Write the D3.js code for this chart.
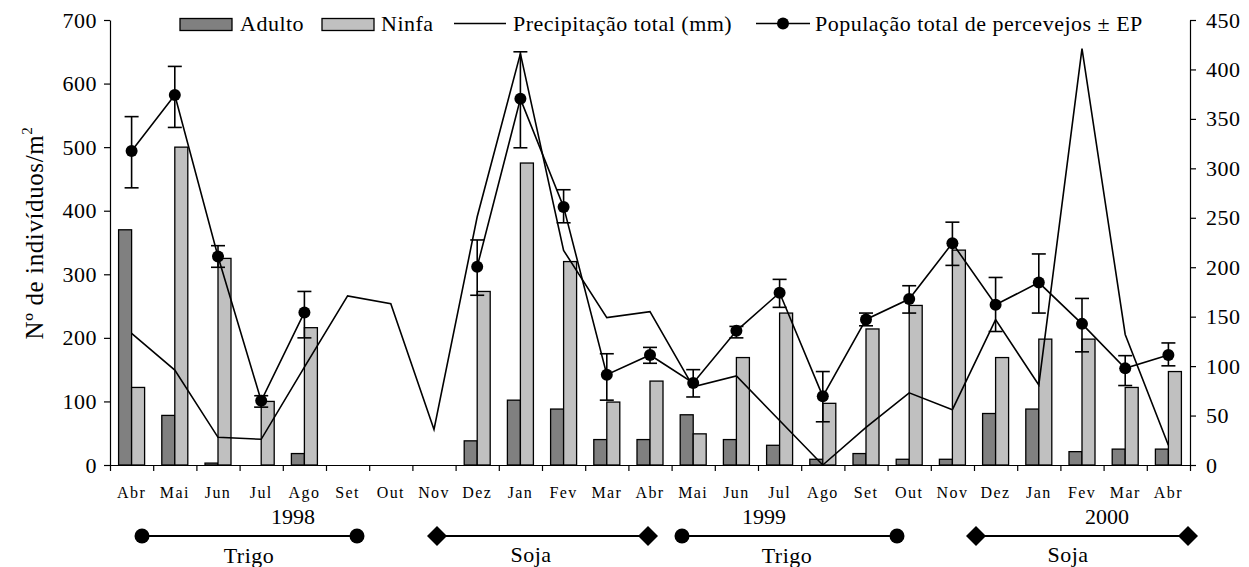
<!DOCTYPE html>
<html>
<head>
<meta charset="utf-8">
<script src="https://cdn.jsdelivr.net/npm/d3@7"></script>
<style>
  body { margin: 0; background: #fff; }
  svg { display: block; font-family: "Liberation Serif", "Times New Roman", serif; }
</style>
</head>
<body>
<svg id="chart" width="1249" height="567"></svg>
<script>
// ---------- DATA ----------
const months = ["Abr","Mai","Jun","Jul","Ago","Set","Out","Nov","Dez","Jan","Fev","Mar","Abr",
                "Mai","Jun","Jul","Ago","Set","Out","Nov","Dez","Jan","Fev","Mar","Abr"];
const adulto = [370, 78, 3, 0, 18, null, null, null, 38, 102, 88, 40, 40,
                79, 40, 31, 9, 18, 9, 9, 81, 88, 21, 25, 25];
const ninfa  = [122, 500, 325, 100, 216, null, null, null, 273, 475, 320, 99, 132,
                49, 169, 239, 97, 214, 251, 338, 169, 198, 198, 122, 147];
const precip = [133, 96, 28, 26, 99, 171, 163, 36, 251, 416, 217, 149, 155,
                79, 90, 45, 0, 38, 73, 56, 147, 81, 421, 132, 20];
const popMean = [494, 582, 328, 101, 240, null, null, null, 312, 576, 406, 142, 173,
                 129, 211, 271, 108, 229, 261, 349, 252, 287, 222, 152, 173];
const popHi = [548, 627, 345, 109, 273, null, null, null, 354, 650, 433, 175, 185,
               150, 218, 292, 147, 239, 282, 382, 295, 332, 262, 172, 192];
const popLo = [436, 531, 311, 91, 200, null, null, null, 267, 499, 381, 102, 160,
               107, 200, 248, 68, 219, 239, 314, 210, 239, 178, 125, 156];
const leftTicks = [0, 100, 200, 300, 400, 500, 600, 700];
const rightTicks = [0, 50, 100, 150, 200, 250, 300, 350, 400, 450];
const years = [{label: "1998", x: 293}, {label: "1999", x: 764}, {label: "2000", x: 1107}];
const seasons = [
  {label: "Trigo", x1: 142, x2: 357, tx: 249, shape: "circle"},
  {label: "Soja",  x1: 437, x2: 648, tx: 531, shape: "diamond"},
  {label: "Trigo", x1: 682, x2: 897, tx: 787, shape: "circle"},
  {label: "Soja",  x1: 976, x2: 1188, tx: 1068, shape: "diamond"}
];

// ---------- SETUP ----------
const svg = d3.select("#chart");
svg.append("rect").attr("width", 1249).attr("height", 567).attr("fill", "#fff");

const L = 110, R = 1190, T = 20, B = 465;
const idx = d3.range(months.length);
const x = d3.scaleBand().domain(idx).range([L, R]).padding(0);
const xb = d3.scaleLinear().domain([0, months.length]).range([L, R]);
const yL = d3.scaleLinear().domain([0, 700]).range([B, T]);
const yR = d3.scaleLinear().domain([0, 450]).range([B, T]);
const cx = i => x(i) + x.bandwidth() / 2;
const barW = 13;

// ---------- BARS ----------
const bars = svg.append("g").attr("stroke", "#000").attr("stroke-width", 1.3);
bars.selectAll("rect.ad").data(idx.filter(i => adulto[i] > 0)).join("rect")
  .attr("class", "ad")
  .attr("x", i => cx(i) - barW).attr("width", barW)
  .attr("y", i => yL(adulto[i])).attr("height", i => yL(0) - yL(adulto[i]))
  .attr("fill", "#808080");
bars.selectAll("rect.ni").data(idx.filter(i => ninfa[i] > 0)).join("rect")
  .attr("class", "ni")
  .attr("x", i => cx(i)).attr("width", barW)
  .attr("y", i => yL(ninfa[i])).attr("height", i => yL(0) - yL(ninfa[i]))
  .attr("fill", "#c0c0c0");

// ---------- AXES ----------
const axisStyle = g => {
  g.selectAll("path, line").attr("stroke", "#000").attr("stroke-width", 1.2);
  g.selectAll("text").attr("fill", "#000").attr("font-family", "Liberation Serif, serif");
};
svg.append("g").attr("transform", `translate(0,${B})`)
  .call(d3.axisBottom(xb).tickValues(d3.range(months.length + 1)).tickFormat("").tickSize(6).tickSizeOuter(0))
  .call(axisStyle);
svg.append("g").attr("transform", `translate(0,${B})`)
  .call(d3.axisBottom(x).tickFormat(i => months[i]).tickSize(0).tickPadding(22))
  .call(g => g.select(".domain").remove())
  .call(axisStyle)
  .call(g => g.selectAll("text").attr("font-size", 16).attr("letter-spacing", "1.4px"));
svg.append("g").attr("transform", `translate(${L},0)`)
  .call(d3.axisLeft(yL).tickValues(leftTicks).tickSize(6).tickSizeOuter(0).tickPadding(7))
  .call(axisStyle)
  .call(g => g.selectAll("text").attr("font-size", 22).attr("letter-spacing", "0.5px"));
svg.append("g").attr("transform", `translate(${R},0)`)
  .call(d3.axisRight(yR).tickValues(rightTicks).tickSize(6).tickSizeOuter(0).tickPadding(10))
  .call(axisStyle)
  .call(g => g.selectAll("text").attr("font-size", 22).attr("letter-spacing", "0.5px"));

// ---------- PRECIPITATION LINE ----------
svg.append("path")
  .attr("d", d3.line().x((d, i) => cx(i)).y(d => yR(d))(precip))
  .attr("fill", "none").attr("stroke", "#000").attr("stroke-width", 1.6);

// ---------- POPULATION LINE + ERROR BARS ----------
svg.append("path")
  .attr("d", d3.line().defined(d => d != null).x((d, i) => cx(i)).y(d => yL(d))(popMean))
  .attr("fill", "none").attr("stroke", "#000").attr("stroke-width", 1.6);
const pIdx = idx.filter(i => popMean[i] != null);
const eb = svg.append("g").attr("stroke", "#000").attr("stroke-width", 1.6);
eb.selectAll("line.v").data(pIdx).join("line").attr("class", "v")
  .attr("x1", cx).attr("x2", cx).attr("y1", i => yL(popHi[i])).attr("y2", i => yL(popLo[i]));
eb.selectAll("line.h").data(pIdx).join("line").attr("class", "h")
  .attr("x1", i => cx(i) - 7).attr("x2", i => cx(i) + 7).attr("y1", i => yL(popHi[i])).attr("y2", i => yL(popHi[i]));
eb.selectAll("line.l").data(pIdx).join("line").attr("class", "l")
  .attr("x1", i => cx(i) - 7).attr("x2", i => cx(i) + 7).attr("y1", i => yL(popLo[i])).attr("y2", i => yL(popLo[i]));
svg.append("g").selectAll("circle").data(pIdx).join("circle")
  .attr("cx", cx).attr("cy", i => yL(popMean[i])).attr("r", 6).attr("fill", "#000");

// ---------- Y LABEL ----------
const yl = svg.append("text").attr("transform", "translate(43,233) rotate(-90)")
  .attr("text-anchor", "middle").attr("font-size", 25).attr("letter-spacing", "0.6px").attr("fill", "#000");
yl.append("tspan").text("Nº de indivíduos/m");
yl.append("tspan").attr("font-size", 15).attr("dy", -11).text("2");

// ---------- LEGEND ----------
const lg = svg.append("g").attr("font-size", 22).attr("letter-spacing", "0.5px").attr("fill", "#000");
lg.append("rect").attr("x", 180).attr("y", 18.5).attr("width", 52).attr("height", 12)
  .attr("fill", "#808080").attr("stroke", "#000").attr("stroke-width", 1.3);
lg.append("text").attr("x", 240).attr("y", 31).text("Adulto");
lg.append("rect").attr("x", 322).attr("y", 18.5).attr("width", 52).attr("height", 12)
  .attr("fill", "#c0c0c0").attr("stroke", "#000").attr("stroke-width", 1.3);
lg.append("text").attr("x", 381).attr("y", 31).text("Ninfa");
lg.append("line").attr("x1", 454).attr("x2", 506).attr("y1", 23.5).attr("y2", 23.5)
  .attr("stroke", "#000").attr("stroke-width", 1.6);
lg.append("text").attr("x", 513).attr("y", 31).text("Precipitação total (mm)");
lg.append("line").attr("x1", 756).attr("x2", 810).attr("y1", 23.5).attr("y2", 23.5)
  .attr("stroke", "#000").attr("stroke-width", 1.6);
lg.append("circle").attr("cx", 783).attr("cy", 23.5).attr("r", 6).attr("fill", "#000");
lg.append("text").attr("x", 815).attr("y", 31).text("População total de percevejos ± EP");

// ---------- YEARS & SEASONS ----------
svg.append("g").selectAll("text").data(years).join("text")
  .attr("x", d => d.x).attr("y", 524).attr("text-anchor", "middle")
  .attr("font-size", 22).attr("fill", "#000").text(d => d.label);
const sg = svg.append("g");
seasons.forEach(s => {
  sg.append("line").attr("x1", s.x1).attr("x2", s.x2).attr("y1", 536).attr("y2", 536)
    .attr("stroke", "#000").attr("stroke-width", 1.8);
  [s.x1, s.x2].forEach(px => {
    if (s.shape === "circle") {
      sg.append("circle").attr("cx", px).attr("cy", 536).attr("r", 7.5).attr("fill", "#000");
    } else {
      sg.append("path").attr("d", `M${px - 10},536 L${px},526 L${px + 10},536 L${px},546 Z`).attr("fill", "#000");
    }
  });
  sg.append("text").attr("x", s.tx).attr("y", s.shape === "circle" ? 563 : 562)
    .attr("text-anchor", "middle").attr("font-size", 22).attr("letter-spacing", "0.5px")
    .attr("fill", "#000").text(s.label);
});
</script>
</body>
</html>
